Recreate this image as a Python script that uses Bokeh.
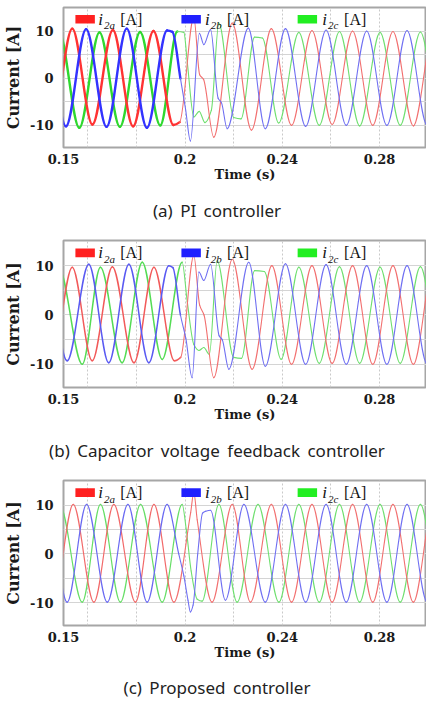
from bokeh.plotting import figure
from bokeh.models import Range1d, FixedTicker, Label, BoxAnnotation, ColumnDataSource, Div
from bokeh.layouts import column
from bokeh.embed import file_html
from bokeh.resources import INLINE

# ---------------- data (time in ms, current in A) ----------------
captions = ["(a) PI controller", "(b) Capacitor voltage feedback controller", "(c) Proposed controller"]
series_names = ["i", "i", "i"]
series_subs = ["2a", "2b", "2c"]
x_ticks = [0.15, 0.2, 0.24, 0.28]
x_tick_labels = ["0.15", "0.2", "0.24", "0.28"]
x_grid = [0.16, 0.18, 0.20, 0.22, 0.24, 0.26, 0.28]
y_ticks = [-10, 0, 10]
y_tick_labels = ["-10", "0", "10"]
y_grid = [-10, -5, 0, 5, 10]

# panel (a) PI controller
red_a_t = [145.2, 153.6, 161.9, 170.3, 178.6, 187.0, 195.2, 197.8, 203.6, 206.0, 207.6, 211.8, 219.4, 227.3,
           235.5, 243.8, 252.2, 260.5, 268.9, 277.2, 285.5, 293.9, 302.2]
red_a_v = [-10.0, 10.6, -9.8, 10.3, -10.2, 10.1, -9.9, -9.3, 13.0, 0.8, -0.2, -12.5, 11.8, -11.0,
           10.6, -10.0, 10.2, -9.8, 10.1, -10.0, 10.0, -10.1, 10.0]
blue_a_t = [142.6, 151.0, 159.3, 167.7, 176.0, 184.3, 192.6, 194.8, 198.1, 200.2, 202.2, 205.9, 207.7, 210.5,
            213.6, 215.0, 217.3, 226.0, 233.0, 241.3, 249.6, 258.0, 266.3, 274.7, 283.0, 291.3, 299.6, 308.0]
blue_a_v = [10.0, -10.2, 10.5, -10.3, 10.6, -10.5, 10.2, 9.9, 0.0, -6.5, -13.3, 9.6, 7.2, 10.4,
            -4.2, -5.2, -10.7, 10.7, -10.7, 10.6, -10.2, 10.3, -10.0, 10.1, -10.0, 10.2, -10.0, 10.0]
green_a_t = [139.8, 148.1, 156.5, 164.8, 173.2, 181.5, 189.8, 196.8, 199.5, 201.0, 203.6, 205.8, 208.2, 210.8,
             213.9, 220.0, 223.0, 228.6, 231.8, 238.5, 246.8, 255.2, 263.5, 271.8, 280.2, 288.5, 296.8, 305.1]
green_a_v = [-10.0, 10.0, -10.5, 9.8, -10.3, 9.9, -10.0, 10.0, 9.8, 3.0, -8.2, -7.0, -9.4, -6.8,
             11.8, -8.3, -8.6, 8.8, 8.6, -9.5, 9.8, -10.0, 10.0, -10.1, 9.8, -10.0, 9.9, -10.0]

# panel (b) capacitor voltage feedback controller
red_b_t = [145.2, 153.6, 161.8, 170.1, 179.0, 187.2, 195.6, 198.2, 203.6, 206.0, 207.8, 211.8, 219.4, 227.6,
           235.7, 243.8, 252.2, 260.5, 268.9, 277.2, 285.5, 293.9, 302.2]
red_b_v = [-9.3, 9.7, -9.3, 9.8, -9.7, 9.7, -9.3, -8.6, 12.0, 2.0, 0.0, -12.7, 11.3, -11.0,
           10.0, -10.0, 10.0, -9.8, 10.0, -10.0, 10.0, -10.0, 10.0]
blue_b_t = [142.6, 151.5, 160.4, 168.6, 176.9, 185.1, 193.3, 195.0, 198.1, 200.3, 202.9, 205.7, 207.7, 210.5,
            214.0, 215.3, 218.0, 226.2, 233.0, 241.3, 249.6, 258.0, 266.3, 274.7, 283.0, 291.3, 299.6, 308.0]
blue_b_v = [10.0, -9.3, 10.3, -9.7, 10.3, -9.7, 10.0, 9.6, 0.0, -4.7, -12.7, 8.7, 7.0, 10.3,
            -4.2, -5.0, -11.0, 10.7, -10.4, 10.4, -10.0, 10.2, -10.0, 10.0, -10.0, 10.0, -10.0, 10.0]
green_b_t = [139.8, 148.1, 157.7, 165.2, 174.1, 182.4, 190.6, 198.8, 200.9, 203.6, 205.7, 207.7, 210.0,
             213.2, 220.0, 223.2, 228.6, 232.6, 239.5, 246.8, 255.2, 263.5, 271.8, 280.2, 288.5, 296.8, 305.1]
green_b_v = [-10.0, 9.5, -10.0, 9.7, -9.7, 10.7, -9.0, 10.7, 2.7, -6.0, -7.2, -6.6, -8.0,
             11.0, -8.6, -8.8, 9.0, 8.8, -9.0, 9.7, -9.8, 9.8, -9.8, 9.7, -9.8, 9.8, -9.8]

# panel (c) proposed controller
red_c_t = [145.8, 154.0, 162.5, 170.7, 179.6, 187.2, 195.4, 202.3, 203.6, 205.0, 211.1, 219.4, 226.9,
           235.5, 243.8, 252.2, 260.5, 268.9, 277.2, 285.5, 293.9, 302.2]
red_c_v = [-10.0, 10.2, -9.9, 10.2, -9.9, 10.2, -9.9, 8.5, 12.6, 7.0, -9.9, 10.2, -9.9,
           10.2, -9.9, 10.2, -9.9, 10.2, -9.9, 10.2, -9.9, 10.2]
blue_c_t = [143.2, 151.5, 159.5, 168.0, 176.5, 184.4, 192.6, 197.4, 199.5, 201.2, 202.2, 203.3, 205.2, 207.2,
            208.5, 210.5, 216.6, 224.2, 233.0, 241.3, 249.6, 258.0, 266.3, 274.7, 283.0, 291.3, 299.6, 308.0]
blue_c_v = [10.0, -9.9, 10.2, -9.9, 10.2, -9.9, 10.2, 0.0, -4.5, -9.5, -11.9, -10.5, 0.0, 8.4,
            8.8, 9.0, -9.5, 10.2, -9.9, 10.2, -9.9, 10.2, -9.9, 10.2, -9.9, 10.2, -9.9, 10.2]
green_c_t = [140.0, 148.5, 157.7, 165.2, 173.4, 181.7, 190.6, 198.8, 200.5, 202.5, 205.0, 207.0, 213.9,
             221.4, 230.0, 238.6, 246.8, 255.2, 263.5, 271.8, 280.2, 288.5, 296.8, 305.1]
green_c_v = [-10.0, 10.0, -9.9, 10.2, -9.9, 10.2, -9.9, 10.2, 5.0, -3.5, -9.3, -9.7, 10.2,
             -9.9, 10.2, -9.9, 10.2, -9.9, 10.2, -9.9, 10.2, -9.9, 10.2, -9.9]

panels = [
    [(red_a_t, red_a_v), (blue_a_t, blue_a_v), (green_a_t, green_a_v)],
    [(red_b_t, red_b_v), (blue_b_t, blue_b_v), (green_b_t, green_b_v)],
    [(red_c_t, red_c_v), (blue_c_t, blue_c_v), (green_c_t, green_c_v)],
]

# ---------------- styling ----------------
SWATCH = ["#ff2020", "#2020ff", "#22ee22"]
PRE_COL = [["#ff3333", "#3333ff", "#2fd82f"],
           ["#f25a5a", "#5a5af2", "#55dc55"],
           ["#f26a6a", "#6a6af2", "#66de66"]]
POST_COL = ["#f27070", "#7070f2", "#6fdf6f"]
PRE_W = [2.4, 1.5, 1.2]
POST_W = 1.1
SPLIT_MS = 199.0
W = 426
FIG_H = [190, 202, 200]
TOP_B = [7, 12, 12]
BOTTOM_B = 43
CAP_H = [38, 38, 33]
CAP_PAD = [12, 12, 11]
Y0, Y1 = -14.7, 15.1
X0, X1 = 0.15, 0.2993


def slopes(t, v):
    n = len(t)
    h = [t[k + 1] - t[k] for k in range(n - 1)]
    d = [(v[k + 1] - v[k]) / h[k] for k in range(n - 1)]
    m = [0.0] * n
    for k in range(1, n - 1):
        if d[k - 1] * d[k] <= 0:
            m[k] = 0.0
        else:
            w1 = 2 * h[k] + h[k - 1]
            w2 = h[k] + 2 * h[k - 1]
            m[k] = (w1 + w2) / (w1 / d[k - 1] + w2 / d[k])
    return m


def curve_source(t, v, pre_col, post_col, pre_w):
    m = slopes(t, v)
    cols = {k: [] for k in ["x0", "y0", "x1", "y1", "cx0", "cy0", "cx1", "cy1", "color", "width"]}
    for k in range(len(t) - 1):
        h = t[k + 1] - t[k]
        cols["x0"].append(t[k] / 1000)
        cols["y0"].append(v[k])
        cols["x1"].append(t[k + 1] / 1000)
        cols["y1"].append(v[k + 1])
        cols["cx0"].append((t[k] + h / 3) / 1000)
        cols["cy0"].append(v[k] + m[k] * h / 3)
        cols["cx1"].append((t[k + 1] - h / 3) / 1000)
        cols["cy1"].append(v[k + 1] - m[k + 1] * h / 3)
        pre = t[k + 1] <= SPLIT_MS
        cols["color"].append(pre_col if pre else post_col)
        cols["width"].append(pre_w if pre else POST_W)
    return ColumnDataSource(cols)


def make_panel(idx):
    p = figure(width=W, height=FIG_H[idx], output_backend="svg", toolbar_location=None,
               x_range=Range1d(X0, X1), y_range=Range1d(Y0, Y1),
               min_border_left=63, min_border_right=0, min_border_top=TOP_B[idx],
               min_border_bottom=BOTTOM_B)
    p.background_fill_color = "white"
    p.border_fill_color = "white"
    p.outline_line_color = "#a6a6a6"
    p.outline_line_width = 2

    p.xaxis.ticker = FixedTicker(ticks=x_ticks)
    p.xaxis.major_label_overrides = {t: s for t, s in zip(x_ticks, x_tick_labels)}
    p.yaxis.ticker = FixedTicker(ticks=y_ticks)
    p.yaxis.major_label_overrides = {t: s for t, s in zip(y_ticks, y_tick_labels)}
    for ax in (p.xaxis, p.yaxis):
        ax.axis_line_color = None
        ax.major_tick_line_color = None
        ax.minor_tick_line_color = None
        ax.major_tick_out = 0
        ax.major_tick_in = 0
        ax.minor_tick_out = 0
        ax.minor_tick_in = 0
        ax.major_label_text_font = "DejaVu Serif"
        ax.major_label_text_font_style = "bold"
        ax.major_label_text_font_size = "13px"
        ax.major_label_text_color = "#1a1a1a"
    p.xaxis.major_label_standoff = 6
    p.yaxis.major_label_standoff = 10
    p.xaxis.axis_label = "Time (s)"
    p.xaxis.axis_label_text_font = "DejaVu Serif"
    p.xaxis.axis_label_text_font_style = "bold"
    p.xaxis.axis_label_text_font_size = "13px"
    p.xaxis.axis_label_standoff = 0
    p.xaxis.axis_label_text_color = "#1a1a1a"
    p.yaxis.axis_label = "Current [A]"
    p.yaxis.axis_label_text_font = "DejaVu Serif"
    p.yaxis.axis_label_text_font_style = "bold"
    p.yaxis.axis_label_text_font_size = "16px"
    p.yaxis.axis_label_standoff = 4
    p.yaxis.axis_label_text_color = "#1a1a1a"

    p.xgrid.ticker = FixedTicker(ticks=x_grid)
    p.xgrid.grid_line_color = "#c9c9c9"
    p.xgrid.grid_line_dash = "2 2"
    p.ygrid.ticker = FixedTicker(ticks=y_grid)
    p.ygrid.grid_line_color = "#d4d4d4"
    p.ygrid.grid_line_width = 1

    order = [2, 0, 1]  # green, red, blue
    for j in order:
        t, v = panels[idx][j]
        src = curve_source(t, v, PRE_COL[idx][j], POST_COL[j], PRE_W[idx])
        p.bezier(x0="x0", y0="y0", x1="x1", y1="y1", cx0="cx0", cy0="cy0", cx1="cx1", cy1="cy1",
                 line_color="color", line_width="width", line_cap="round", source=src)

    # legend (annotations)
    sw_left = [154.9, 198.5, 246.3]
    txt_x = [164.3, 208.2, 256.4]
    for j in range(3):
        p.add_layout(BoxAnnotation(left=sw_left[j] / 1000, right=(sw_left[j] + 8.0) / 1000,
                                   bottom=11.7, top=13.5, fill_color=SWATCH[j], fill_alpha=1.0,
                                   line_color=None, level="overlay"))
        p.add_layout(Label(x=txt_x[j] / 1000, y=12.6, text=series_names[j], text_font="Liberation Serif",
                           text_font_style="italic", text_font_size="17px", text_baseline="middle",
                           text_color="#111111"))
        p.add_layout(Label(x=(txt_x[j] + 2.4) / 1000, y=11.4, text=series_subs[j], text_font="Liberation Serif",
                           text_font_style="italic", text_font_size="11px", text_baseline="middle",
                           text_color="#111111"))
        p.add_layout(Label(x=(txt_x[j] + 9.0) / 1000, y=12.6, text="[A]", text_font="Liberation Serif",
                           text_font_size="16px", text_baseline="middle", text_color="#111111"))
    return p


def make_caption(idx):
    html = '<div style="padding-top:%dpx;padding-left:8px;">%s</div>' % (CAP_PAD[idx], captions[idx])
    return Div(text=html, width=W, height=CAP_H[idx], margin=0,
               styles={"text-align": "center", "font-family": "'Noto Sans', sans-serif",
                       "font-size": "17px", "line-height": "18px", "color": "#222222",
                       "word-spacing": "3px"})


children = []
for i in range(3):
    children.append(make_panel(i))
    children.append(make_caption(i))
layout = column(children, spacing=0)
open("out.html", "w").write(file_html(layout, INLINE))
